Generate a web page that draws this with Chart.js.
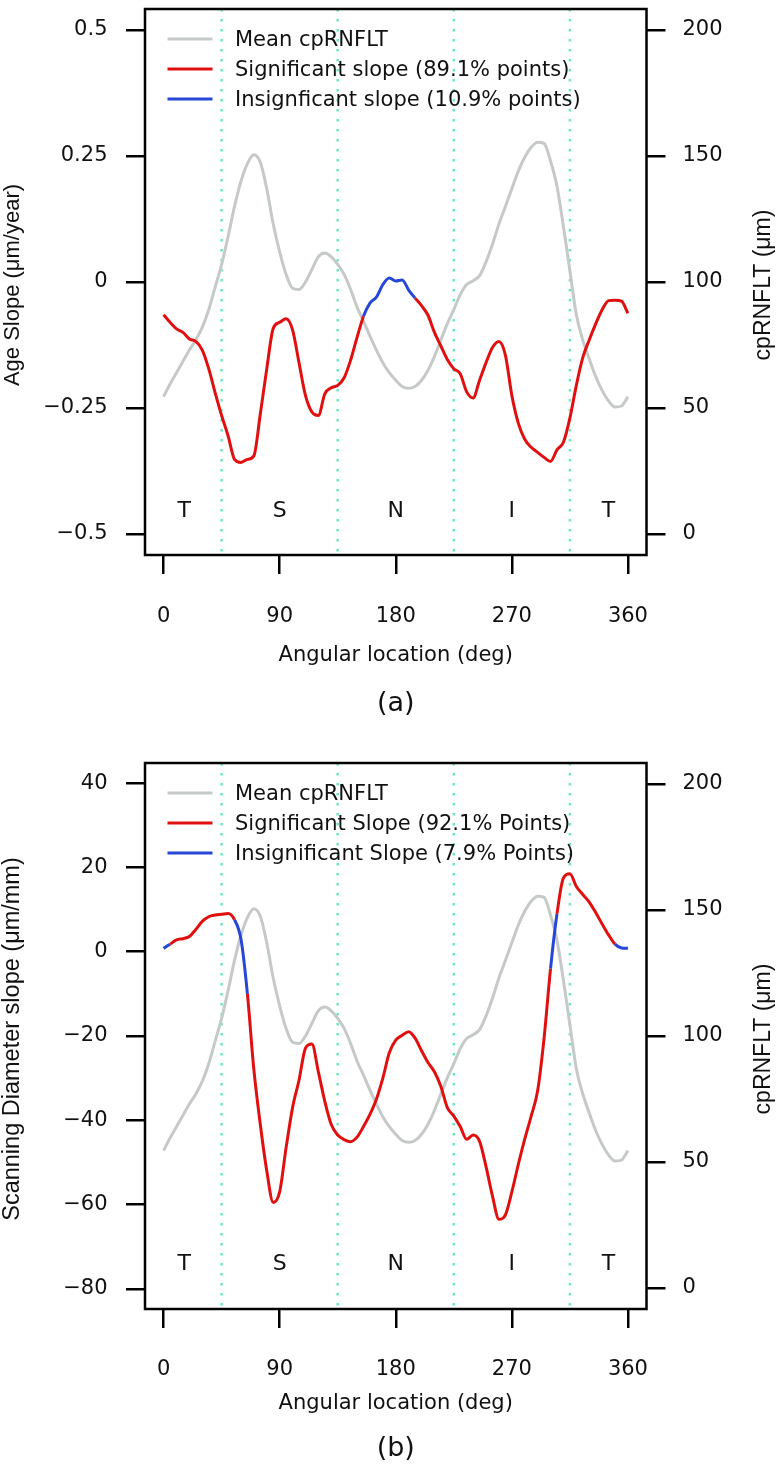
<!DOCTYPE html>
<html>
<head>
<meta charset="utf-8">
<script src="https://cdn.jsdelivr.net/npm/chart.js@4.4.1/dist/chart.umd.min.js"></script>
<style>
  html, body { margin: 0; padding: 0; background: #fff; }
  #wrap { position: relative; width: 777px; height: 1470px; }
  .panel { position: absolute; left: 0; width: 777px; height: 735px; }
</style>
</head>
<body>
<div id="wrap">
  <div class="panel" style="top:0"><canvas id="chartA" width="777" height="735"></canvas></div>
  <div class="panel" style="top:735px"><canvas id="chartB" width="777" height="735"></canvas></div>
</div>
<script>
// angular location (deg), every 5 degrees
var angles = [0, 5, 10, 15, 20, 25, 30, 35, 40, 45, 50, 55, 60, 65, 70, 75, 80, 85, 90,
  95, 100, 105, 110, 115, 120, 125, 130, 135, 140, 145, 150, 155, 160, 165, 170, 175, 180,
  185, 190, 195, 200, 205, 210, 215, 220, 225, 230, 235, 240, 245, 250, 255, 260, 265, 270,
  275, 280, 285, 290, 295, 300, 305, 310, 315, 320, 325, 330, 335, 340, 345, 350, 355, 360];

// mean cpRNFLT (um), right axis, same in both panels
var meanRnflt = [54.5, 59.5, 64, 68.5, 73, 77, 82, 89, 98, 107, 118, 130, 140, 147, 150.5,
  147.5, 137, 123, 112, 103, 97.5, 97, 100, 105, 110, 111.5, 110, 107, 103, 97, 90, 84.5,
  78.5, 73, 68, 64, 61, 58.5, 57.8, 58.5, 61, 65, 70.5, 77, 83.5, 89, 95, 99, 100.5, 102.5,
  108, 115, 123, 130, 137, 144, 149.5, 153.5, 155.5, 155, 148, 138, 122, 104.5, 87, 77,
  69.5, 62.5, 57, 52.8, 50.4, 50.8, 54.5];

// (a) age slope (um/year)
var ageSlope = [-0.065, -0.080, -0.093, -0.100, -0.113, -0.118, -0.135, -0.172, -0.220,
  -0.265, -0.305, -0.352, -0.358, -0.352, -0.345, -0.262, -0.172, -0.092, -0.080, -0.073,
  -0.095, -0.160, -0.225, -0.258, -0.265, -0.222, -0.210, -0.205, -0.190, -0.155, -0.110,
  -0.068, -0.042, -0.030, -0.005, 0.008, 0.002, 0.004, -0.016, -0.032, -0.047, -0.066,
  -0.100, -0.127, -0.154, -0.172, -0.182, -0.218, -0.230, -0.195, -0.160, -0.130, -0.118,
  -0.145, -0.225, -0.280, -0.312, -0.328, -0.338, -0.348, -0.356, -0.333, -0.318, -0.270,
  -0.205, -0.150, -0.115, -0.083, -0.055, -0.037, -0.036, -0.038, -0.062];
var ageInsig = [[157.5, 196.5]];

// (b) scanning diameter slope (um/mm)
var diamSlope = [0.8, 1.8, 2.8, 3.1, 3.6, 5.3, 7.2, 8.3, 8.7, 8.9, 9.1, 7.6, 3.0, -10.0,
  -28.0, -41.0, -52.0, -59.5, -57.0, -46.5, -37.0, -30.5, -22.9, -21.9, -28.5, -35.5,
  -41.0, -43.5, -44.6, -45.1, -44.0, -41.5, -38.6, -35.0, -30.0, -24.0, -21.0, -19.8,
  -19.0, -20.5, -23.5, -26.3, -28.5, -32.0, -37.0, -39.0, -41.5, -44.5, -43.5, -45.0,
  -51.0, -58.0, -63.5, -62.5, -57.0, -50.5, -44.5, -39.0, -33.0, -20.5, -4.0, 9.0, 17.5,
  18.5, 15.5, 13.6, 11.8, 9.3, 6.6, 4.0, 1.8, 0.9, 0.8];
var diamInsig = [[0, 6.5], [56, 64], [299.5, 304.5], [349, 360]];

var xTicks = [0, 90, 180, 270, 360];
var rightTicks = [0, 50, 100, 150, 200];
var ageTicks = [-0.5, -0.25, 0, 0.25, 0.5];
var ageTickLabels = ['\u22120.5', '\u22120.25', '0', '0.25', '0.5'];
var diamTicks = [-80, -60, -40, -20, 0, 20, 40];
var diamTickLabels = ['\u221280', '\u221260', '\u221240', '\u221220', '0', '20', '40'];

var sectorBounds = [45, 135, 225, 315];
var sectorNames = ['T', 'S', 'N', 'I', 'T'];
var sectorAt = [16, 90, 180, 270, 345];

var GRAY = '#c5c9c7', RED = '#e01010', BLUE = '#2747d6', DOT = '#6ee6c2';
var FONT = "'DejaVu Sans', sans-serif";
var TFONT = "'Liberation Sans', Arial, sans-serif";

function inRanges(v, ranges) {
  return ranges.some(function (r) { return v >= r[0] && v <= r[1]; });
}

var decor = {
  id: 'decor',
  beforeDatasetsDraw: function (chart) {
    var ctx = chart.ctx, a = chart.chartArea, x = chart.scales.x;
    ctx.save();
    ctx.strokeStyle = DOT;
    ctx.lineWidth = 2.5;
    ctx.setLineDash([2.5, 7.5]);
    sectorBounds.forEach(function (d) {
      var px = x.getPixelForValue(d);
      ctx.beginPath();
      ctx.moveTo(px, a.top);
      ctx.lineTo(px, a.bottom);
      ctx.stroke();
    });
    ctx.restore();
  },
  afterDraw: function (chart, args, o) {
    var ctx = chart.ctx, a = chart.chartArea, x = chart.scales.x, y = chart.scales.y;
    ctx.save();
    ctx.strokeStyle = '#000';
    ctx.lineWidth = 2.5;
    ctx.strokeRect(a.left, a.top, a.right - a.left, a.bottom - a.top);

    ctx.fillStyle = '#111';
    ctx.textBaseline = 'middle';
    // sector letters
    ctx.font = '22px ' + FONT;
    ctx.textAlign = 'center';
    sectorNames.forEach(function (s, i) {
      ctx.fillText(s, x.getPixelForValue(sectorAt[i]), y.getPixelForValue(o.sectorY) + 1);
    });
    // legend
    ctx.font = '21px ' + FONT;
    ctx.textAlign = 'left';
    o.legend.forEach(function (item, i) {
      var ly = a.top + 31 + i * 30;
      ctx.strokeStyle = item[1];
      ctx.lineWidth = 3;
      ctx.beginPath();
      ctx.moveTo(a.left + 22.5, ly - 1);
      ctx.lineTo(a.left + 67.5, ly - 1);
      ctx.stroke();
      ctx.fillText(item[0], a.left + 90, ly + 1);
    });
    // x title and panel label
    var cx = (a.left + a.right) / 2;
    ctx.textAlign = 'center';
    ctx.font = '21px ' + FONT;
    ctx.fillText('Angular location (deg)', cx, a.bottom + o.xTitleGap + 1);
    ctx.font = '27px ' + FONT;
    ctx.fillText(o.panel, cx, a.bottom + o.panelGap + 1);
    // y titles, both read bottom to top
    var cy = (a.top + a.bottom) / 2;
    ctx.font = o.leftTitleSize + 'px ' + TFONT;
    ctx.save();
    ctx.translate(12.5, cy + 3);
    ctx.rotate(-Math.PI / 2);
    ctx.fillText(o.leftTitle, 0, 0);
    ctx.restore();
    ctx.font = '23px ' + TFONT;
    ctx.save();
    ctx.translate(763.5, cy + 3);
    ctx.rotate(-Math.PI / 2);
    ctx.fillText('cpRNFLT (\u03bcm)', 0, 0);
    ctx.restore();
    ctx.restore();
  }
};

function tickAxis(extra) {
  var base = {
    grid: { drawOnChartArea: false, tickLength: 19, color: '#000', lineWidth: 2.5 },
    border: { display: false },
    ticks: { color: '#111', font: { family: FONT, size: 21, lineHeight: 1 }, autoSkip: false, maxRotation: 0 }
  };
  return Object.assign(base, extra);
}

function makeChart(id, p) {
  return new Chart(document.getElementById(id), {
    type: 'line',
    data: {
      datasets: [{
        label: p.legend[1][0],
        data: angles.map(function (d, i) { return { x: d, y: p.slope[i] }; }),
        yAxisID: 'y',
        borderColor: RED,
        borderWidth: 3,
        pointRadius: 0,
        cubicInterpolationMode: 'monotone',
        segment: {
          borderColor: function (c) {
            var mid = (angles[c.p0DataIndex] + angles[c.p1DataIndex]) / 2;
            return inRanges(mid, p.insig) ? BLUE : RED;
          }
        }
      }, {
        label: p.legend[0][0],
        data: angles.map(function (d, i) { return { x: d, y: meanRnflt[i] }; }),
        yAxisID: 'y2',
        borderColor: GRAY,
        borderWidth: 3,
        pointRadius: 0,
        cubicInterpolationMode: 'monotone'
      }]
    },
    options: {
      responsive: false,
      animation: false,
      devicePixelRatio: 1,
      layout: { padding: { top: p.boxTop, left: 0, right: 0, bottom: 0 } },
      plugins: {
        legend: { display: false },
        tooltip: { enabled: false },
        decor: {
          legend: p.legend, sectorY: p.sectorY, panel: p.panel,
          leftTitle: p.leftTitle, leftTitleSize: p.leftTitleSize,
          xTitleGap: p.xTitleGap, panelGap: p.panelGap
        }
      },
      scales: {
        x: tickAxis({
          type: 'linear', min: -14.4, max: 374.4,
          afterBuildTicks: function (s) { s.ticks = xTicks.map(function (v) { return { value: v }; }); },
          afterFit: function (s) { s.height = 735 - p.boxBottom; s.paddingLeft = 0; s.paddingRight = 0; }
        }),
        y: tickAxis({
          type: 'linear', position: 'left', min: p.yMin, max: p.yMax,
          afterBuildTicks: function (s) { s.ticks = p.yTicks.map(function (v) { return { value: v }; }); },
          afterFit: function (s) { s.width = 145; s.paddingTop = 0; s.paddingBottom = 0; }
        }),
        y2: tickAxis({
          type: 'linear', position: 'right', min: -8.333, max: 208.333,
          afterBuildTicks: function (s) { s.ticks = rightTicks.map(function (v) { return { value: v }; }); },
          afterFit: function (s) { s.width = 130.5; s.paddingTop = 0; s.paddingBottom = 0; }
        })
      }
    },
    plugins: [decor]
  });
}

var chartA = makeChart('chartA', {
  slope: ageSlope, insig: ageInsig, yMin: -0.5417, yMax: 0.5417, yTicks: ageTicks,
  boxTop: 9, boxBottom: 555, sectorY: -0.452, panel: '(a)',
  leftTitle: 'Age Slope (\u03bcm/year)', leftTitleSize: 22, xTitleGap: 100, panelGap: 148,
  legend: [['Mean cpRNFLT', GRAY], ['Significant slope (89.1% points)', RED],
    ['Insignficant slope (10.9% points)', BLUE]]
});
var chartB = makeChart('chartB', {
  slope: diamSlope, insig: diamInsig, yMin: -84.8, yMax: 44.8, yTicks: diamTicks,
  boxTop: 28, boxBottom: 574, sectorY: -74, panel: '(b)',
  leftTitle: 'Scanning Diameter slope (\u03bcm/mm)', leftTitleSize: 23.5, xTitleGap: 94, panelGap: 139,
  legend: [['Mean cpRNFLT', GRAY], ['Significant Slope (92.1% Points)', RED],
    ['Insignificant Slope (7.9% Points)', BLUE]]
});

// tick label text (proper minus signs) and label offsets
[[chartA, ageTickLabels, 32], [chartB, diamTickLabels, 31]].forEach(function (t) {
  var sc = t[0].options.scales;
  sc.y.ticks.callback = function (v, i) { return t[1][i]; };
  sc.y2.ticks.callback = function (v) { return String(v); };
  sc.x.ticks.callback = function (v) { return String(v); };
  sc.x.ticks.padding = t[2];
  sc.y.ticks.padding = 18.5;
  sc.y2.ticks.padding = 17;
  t[0].update();
});
</script>
</body>
</html>
